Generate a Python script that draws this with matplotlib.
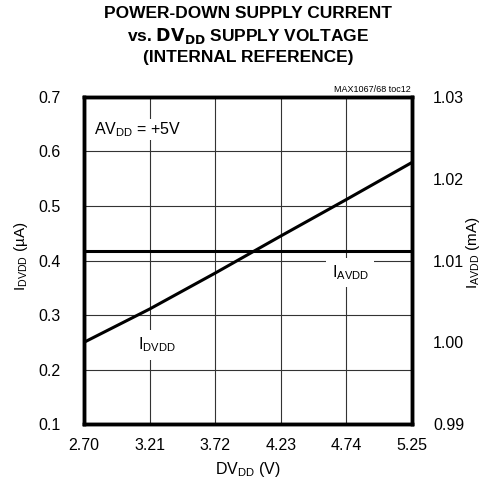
import matplotlib
matplotlib.use("Agg")
import matplotlib.pyplot as plt

# data
dvdd_v = [2.70, 3.21, 3.72, 4.23, 4.74, 5.25]
i_dvdd_ua = [0.25, 0.311, 0.377, 0.445, 0.512, 0.58]
i_avdd_ma = [1.0112, 1.0112, 1.0112, 1.0112, 1.0112, 1.0112]

x_ticks = [2.70, 3.21, 3.72, 4.23, 4.74, 5.25]
left_ticks = [0.1, 0.2, 0.3, 0.4, 0.5, 0.6, 0.7]
right_ticks = [0.99, 1.00, 1.01, 1.02, 1.03]

plt.rcParams['font.family'] = ['Liberation Sans', 'DejaVu Sans']
plt.rcParams['mathtext.default'] = 'regular'
plt.rcParams['mathtext.fontset'] = 'custom'
plt.rcParams['mathtext.rm'] = 'Liberation Sans'

fig = plt.figure(figsize=(4.82, 4.87), dpi=100)
ax = fig.add_axes([0.174, 0.129, 0.681, 0.672])
ax2 = ax.twinx()

ax.set_xlim(2.70, 5.25)
ax.set_ylim(0.1, 0.7)
ax2.set_ylim(0.99, 1.03)

ax.set_xticks(x_ticks)
ax.set_xticklabels([f"{v:.2f}" for v in x_ticks])
ax.set_yticks(left_ticks)
ax.set_yticklabels([f"{v:.1f}" for v in left_ticks])
ax2.set_yticks(right_ticks)
ax2.set_yticklabels([f"{v:.2f}" for v in right_ticks])

for a in (ax, ax2):
    a.tick_params(length=0, labelsize=11.5, pad=10)
    for s in a.spines.values():
        s.set_linewidth(2.5)
ax.tick_params(axis='y', pad=17)
ax2.tick_params(axis='y', pad=15)

ax.set_axisbelow(True)
ax.grid(True, color='#333333', linewidth=0.8)

ax.plot(dvdd_v, i_dvdd_ua, color='black', linewidth=2.2, zorder=4)
ax2.plot(dvdd_v, i_avdd_ma, color='black', linewidth=2.2, zorder=4)

ax.text(2.78, 0.64, '$AV_{DD}$ = +5V', fontsize=11.5, ha='left', va='center',
        bbox=dict(facecolor='white', edgecolor='none', pad=1), zorder=2.5)
ax.text(3.27, 0.245, '$I_{DVDD}$', fontsize=11.5, ha='center', va='center',
        bbox=dict(facecolor='white', edgecolor='none', pad=4), zorder=2.5)
ax.text(4.77, 0.378, '$I_{AVDD}$', fontsize=11.5, ha='center', va='center',
        bbox=dict(facecolor='white', edgecolor='none', pad=4), zorder=2.5)

ax.set_xlabel('$DV_{DD}$ (V)', fontsize=11.5, labelpad=5)
fig.text(21 / 482, 1 - 256 / 487, '$I_{DVDD}$ (µA)', fontsize=11, rotation=90,
         ha='center', va='center')
fig.text(473 / 482, 1 - 253 / 487, '$I_{AVDD}$ (mA)', fontsize=11, rotation=90,
         ha='center', va='center')

fig.text(0.852, 0.808, 'MAX1067/68 toc12', fontsize=6.5, ha='right', va='bottom')
fig.text(0.515, 0.988, 'POWER-DOWN SUPPLY CURRENT\nvs. $\\mathbf{DV_{DD}}$ SUPPLY VOLTAGE\n(INTERNAL REFERENCE)',
         fontsize=12.5, fontweight='bold', ha='center', va='top', linespacing=1.35)

fig.savefig('out.png', dpi=100)
